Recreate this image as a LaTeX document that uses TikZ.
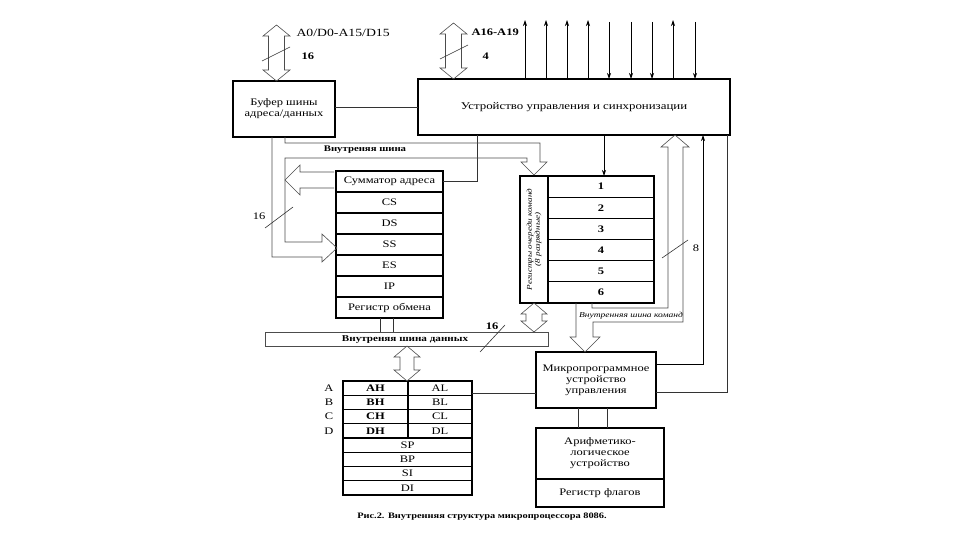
\documentclass[tikz,border=0pt]{standalone}
\usepackage{fontspec}
\setmainfont{Liberation Serif}[FakeStretch=1.25]
\usetikzlibrary{arrows.meta}
\newcommand\hollowdbl[5]{% xc, ytop, ybottom, head half width, shaft half width
  \draw[bus] (#1,#2) -- ({#1+#4},{#2+11}) -- ({#1+#5},{#2+11}) -- ({#1+#5},{#3-11})
   -- ({#1+#4},{#3-11}) -- (#1,#3) -- ({#1-#4},{#3-11}) -- ({#1-#5},{#3-11})
   -- ({#1-#5},{#2+11}) -- ({#1-#4},{#2+11}) -- cycle;}
\begin{document}
\begin{tikzpicture}[x=1pt,y=-1pt,
  box/.style={draw,line width=1.1pt,inner sep=0pt,outer sep=0pt,align=center,font=\fontsize{10}{11}\selectfont},
  thin/.style={line width=0.6pt,draw=black!80},
  bus/.style={line width=0.6pt,draw=black!70},
  sig/.style={line width=0.7pt,-{Stealth[length=6pt,width=4pt]}},
  blbl/.style={font=\fontsize{8.6}{9}\selectfont\bfseries},
  reg/.style={box,font=\fontsize{10}{11}\selectfont\bfseries},
]
\useasboundingbox (0,0) rectangle (960,540);

% ---------- boxes ----------
\node[box,minimum width=102pt,minimum height=56pt] (buf) at (284,109) {Буфер шины\\адреса/данных};
\node[box,minimum width=312pt,minimum height=56pt,font=\fontsize{10.3}{11}\selectfont] (ctrl) at (574,107) {Устройство управления и синхронизации};

\foreach \t [count=\i from 0] in {Сумматор адреса,CS,DS,SS,ES,IP,Регистр обмена}
  \node[box,minimum width=107pt,minimum height=21pt] (s\i) at (389.5,{181.5+21*\i}) {\t};

\node[box,minimum width=28pt,minimum height=127pt] (qlab) at (534,239.5) {};
\node[rotate=90,font=\itshape\fontsize{7.3}{8}\selectfont,align=center] (qtxt) at (qlab) {Регистры очереди команд\\(8 разрядные)};
\foreach \i in {1,...,6}
  \node[reg,minimum width=106pt,minimum height=21.17pt] (q\i) at (601,{176+21.17*\i-10.58}) {\i};

\node[draw,bus,minimum width=283pt,minimum height=14pt,inner sep=0pt,outer sep=0pt] (dbus) at (406.5,339) {};
\node[font=\fontsize{8.9}{9}\selectfont\bfseries] (dbustxt) at (405,340) {Внутреняя шина данных};

\foreach \h/\l/\n [count=\i from 0] in {AH/AL/A,BH/BL/B,CH/CL/C,DH/DL/D}{
  \node[reg,minimum width=65pt,minimum height=14.25pt] (h\i) at (375.5,{388.1+14.25*\i}) {\h};
  \node[box,minimum width=64pt,minimum height=14.25pt] (l\i) at (440,{388.1+14.25*\i}) {\l};
  \node[font=\fontsize{10}{11}\selectfont] (n\i) at (329,{388.1+14.25*\i}) {\n};
}
\foreach \t [count=\i from 4] in {SP,BP,SI,DI}
  \node[box,minimum width=129pt,minimum height=14.25pt] (g\i) at (407.5,{388.1+14.25*\i}) {\t};

\node[box,minimum width=120pt,minimum height=56pt] (mp) at (596,380) {Микропрограммное\\устройство\\управления};
\node[box,minimum width=128pt,minimum height=51pt] (alu) at (600,453.5) {Арифметико-\\логическое\\устройство};
\node[box,minimum width=128pt,minimum height=28pt] (flags) at (600,493) {Регистр флагов};

% ---------- external buses ----------
\hollowdbl{276.5}{25}{81}{13.5}{8}
\draw[thin] (262,61) -- (290,47);
\node[anchor=west,font=\fontsize{11}{12}\selectfont] (a0) at (293,33) {A0/D0-A15/D15};
\node[anchor=west,font=\fontsize{10}{11}\selectfont\bfseries] (b16) at (298,56) {16};

\hollowdbl{453.5}{23}{79}{13.5}{8}
\draw[thin] (440,59) -- (468,45);
\node[anchor=west,font=\fontsize{10}{11}\selectfont\bfseries] (a16) at (468,32) {A16-A19};
\node[anchor=west,font=\fontsize{10}{11}\selectfont\bfseries] (b4) at (479,56) {4};

% control signals
\foreach \x in {525,546,567,588,673}
  \draw[sig] (\x,0 |- ctrl.north) -- (\x,20);
\foreach \x in {609,631,652,695}
  \draw[sig] (\x,22) -- (\x,0 |- ctrl.north);

% ---------- internal connections ----------
\draw[thin] (buf.east |- 0,107) -- (ctrl.west |- 0,107);
\draw[thin] (s0.east) -| (477,0 |- ctrl.south);
\draw[sig] (604,0 |- ctrl.south) -- (604,0 |- q1.north);

% internal bus from buffer
\draw[bus] (272,0 |- buf.south) -- (272,257) -- (322,257) -- (322,262) -- (337,248) -- (322,234)
  -- (322,242) -- (285,242) -- (285,158) -- (527,158) -- (527,162) -- (521,162) -- (534,175)
  -- (547,162) -- (540,162) -- (540,143) -- (285,143) -- (285,0 |- buf.south);
\node[blbl] (ibus) at (365,150) {Внутреняя шина};
\draw[thin] (265,228) -- (293,207);
\node[font=\fontsize{10}{11}\selectfont] (l16) at (259,216) {16};

% arrow out of address adder
\draw[bus] (334,172) -- (300,172) -- (300,165) -- (285,180) -- (300,195) -- (300,188) -- (334,188);

% exchange register to data bus
\draw[thin] (380,0 |- s6.south) -- (380,0 |- dbus.north);
\draw[thin] (393,0 |- s6.south) -- (393,0 |- dbus.north);
\draw[thin] (480,352) -- (505,325);
\node[font=\fontsize{10}{11}\selectfont\bfseries] (d16) at (492,326) {16};

% queue <-> data bus, data bus <-> general registers
\hollowdbl{534}{303}{332}{13}{8}
\hollowdbl{407}{346}{381}{13}{7}

% internal command bus
\draw[bus] (576,0 |- q6.south) -- (576,337) -- (570,337) -- (585,352) -- (600,337) -- (593,337)
  -- (593,322) -- (683,322) -- (683,147) -- (689,147) -- (675,135) -- (661,147) -- (668,147)
  -- (668,308) -- (592,308) -- (592,0 |- q6.south);
\node[font=\itshape\fontsize{7.6}{8}\selectfont] (cbus) at (631,315.5) {Внутренняя шина команд};
\draw[thin] (662,258) -- (688,240);
\node[font=\fontsize{10}{11}\selectfont] (c8) at (696,248) {8};

% microprogram unit connections
\draw[sig] (mp.east |- 0,364) -| (703,0 |- ctrl.south);
\draw[thin] (mp.east |- 0,392) -| (727,0 |- ctrl.south);
\draw[thin] (l0.east |- 0,393) -- (mp.west |- 0,393);
\draw[thin] (578,0 |- mp.south) -- (578,0 |- alu.north);
\draw[thin] (607,0 |- mp.south) -- (607,0 |- alu.north);

\node[font=\fontsize{8.3}{9}\selectfont\bfseries] (cap) at (482,517) {Рис.2. Внутренняя структура микропроцессора 8086.};
\end{tikzpicture}
\end{document}
